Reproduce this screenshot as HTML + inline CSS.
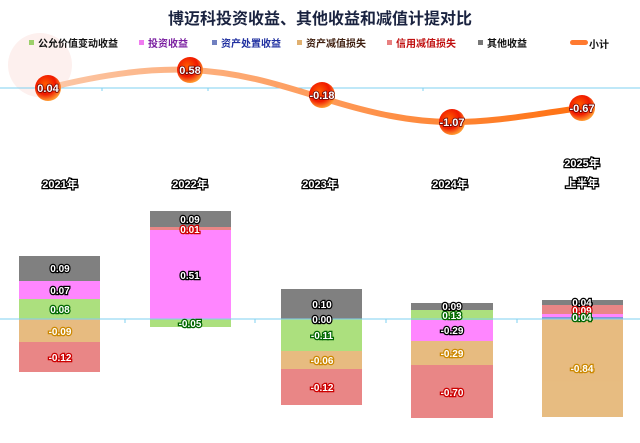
<!DOCTYPE html>
<html><head><meta charset="utf-8"><style>
body{margin:0;width:640px;height:438px;background:#fff;overflow:hidden;font-family:"Liberation Sans","Noto Sans CJK SC",sans-serif}
.t{paint-order:stroke;stroke:#000;stroke-width:2.5px;font-weight:bold}
</style></head><body>
<svg width="640" height="438" xmlns="http://www.w3.org/2000/svg" font-family="Liberation Sans, Noto Sans CJK SC, sans-serif">
<defs>
<radialGradient id="b" cx="40%" cy="35%" r="65%"><stop offset="0" stop-color="#ff5a00"/><stop offset="0.6" stop-color="#f01800"/><stop offset="1" stop-color="#ff9a30"/></radialGradient>
<linearGradient id="l" x1="0" x2="1"><stop offset="0" stop-color="#fcc8a8"/><stop offset="1" stop-color="#ff7010"/></linearGradient>
</defs>
<circle cx="40" cy="65" r="32" fill="#fdf0ee"/>
<text x="320" y="24" text-anchor="middle" font-size="16" font-weight="bold" fill="#1a2340">博迈科投资收益、其他收益和减值计提对比</text>
<g font-size="10" font-weight="bold">
<rect x="29" y="40" width="5" height="5" fill="#9ccf6a"/><text x="38" y="47" fill="#111">公允价值变动收益</text>
<rect x="139" y="40" width="5" height="5" fill="#f07cf0"/><text x="148" y="47" fill="#7a1fa0">投资收益</text>
<rect x="212" y="40" width="5" height="5" fill="#7080c0"/><text x="221" y="47" fill="#2030a0">资产处置收益</text>
<rect x="297" y="40" width="5" height="5" fill="#e0b070"/><text x="306" y="47" fill="#402010">资产减值损失</text>
<rect x="387" y="40" width="5" height="5" fill="#e88080"/><text x="396" y="47" fill="#c01010">信用减值损失</text>
<rect x="478" y="40" width="5" height="5" fill="#777"/><text x="487" y="47" fill="#111">其他收益</text>
<rect x="570" y="40" width="18" height="5" rx="2.5" fill="#ff7a30"/><text x="589" y="48" fill="#111">小计</text>
</g>
<line x1="0" y1="88" x2="640" y2="88" stroke="#7fd0f0" stroke-width="1"/>
<g stroke="#7fd0f0"><line x1="102" y1="88" x2="102" y2="91"/><line x1="208" y1="88" x2="208" y2="91"/><line x1="315" y1="88" x2="315" y2="91"/><line x1="423" y1="88" x2="423" y2="91"/></g>
<path d="M48,88 C100,75 150,68 190,70 C240,72 280,85 322,98 C370,113 410,122 452,122 C500,122 540,113 582,108" fill="none" stroke="url(#l)" stroke-width="6" stroke-linecap="round"/>
<g font-size="11" fill="#fff" text-anchor="middle" class="t" style="stroke-width:1.5px">
<circle cx="48" cy="88" r="13" fill="url(#b)" stroke="none"/><text x="48" y="92" stroke="#600">0.04</text>
<circle cx="190" cy="70" r="13" fill="url(#b)" stroke="none"/><text x="190" y="74" stroke="#600">0.58</text>
<circle cx="322" cy="95" r="13" fill="url(#b)" stroke="none"/><text x="322" y="99" stroke="#600">-0.18</text>
<circle cx="452" cy="122" r="13" fill="url(#b)" stroke="none"/><text x="452" y="126" stroke="#600">-1.07</text>
<circle cx="582" cy="108" r="13" fill="url(#b)" stroke="none"/><text x="582" y="112" stroke="#600">-0.67</text>
</g>
<g font-size="11" fill="#fff" text-anchor="middle" class="t">
<text x="60" y="188">2021年</text><text x="190" y="188">2022年</text><text x="320" y="188">2023年</text><text x="450" y="188">2024年</text>
<text x="582" y="167">2025年</text><text x="582" y="187">上半年</text>
</g>
<g opacity="0.95">
<rect x="19" y="256" width="81" height="25" fill="#7a7a7a"/><rect x="19" y="281" width="81" height="18" fill="#ff80ff"/><rect x="19" y="299" width="81" height="20" fill="#a8df78"/><rect x="19" y="319" width="81" height="23" fill="#e6b87a"/><rect x="19" y="342" width="81" height="30" fill="#e88080"/>
<rect x="150" y="211" width="81" height="16" fill="#7a7a7a"/><rect x="150" y="227" width="81" height="3" fill="#e88080"/><rect x="150" y="230" width="81" height="89" fill="#ff80ff"/><rect x="150" y="319" width="81" height="8" fill="#a8df78"/>
<rect x="281" y="289" width="81" height="30" fill="#7a7a7a"/><rect x="281" y="319" width="81" height="32" fill="#a8df78"/><rect x="281" y="351" width="81" height="18" fill="#e6b87a"/><rect x="281" y="369" width="81" height="36" fill="#e88080"/>
<rect x="411" y="303" width="82" height="7" fill="#7a7a7a"/><rect x="411" y="310" width="82" height="10" fill="#a8df78"/><rect x="411" y="320" width="82" height="21" fill="#ff80ff"/><rect x="411" y="341" width="82" height="24" fill="#e6b87a"/><rect x="411" y="365" width="82" height="53" fill="#e88080"/>
<rect x="542" y="300" width="81" height="5" fill="#7a7a7a"/><rect x="542" y="305" width="81" height="9" fill="#e88080"/><rect x="542" y="314" width="81" height="3" fill="#ff80ff"/><rect x="542" y="317" width="81" height="2" fill="#8090d0"/><rect x="542" y="319" width="81" height="98" fill="#e6b87a"/>
</g>
<line x1="0" y1="319" x2="640" y2="319" stroke="#7fd0f0"/>
<g stroke="#7fd0f0"><line x1="125" y1="319" x2="125" y2="323"/><line x1="255" y1="319" x2="255" y2="323"/><line x1="386" y1="319" x2="386" y2="323"/><line x1="517" y1="319" x2="517" y2="323"/></g>
<g font-size="10" text-anchor="middle" class="t" style="stroke-width:2.5px">
<text x="60" y="272" fill="#fff">0.09</text><text x="60" y="294" fill="#fff">0.07</text><text x="60" y="313" fill="#fff" stroke="#060">0.08</text><text x="60" y="335" fill="#fff" stroke="#c80">-0.09</text><text x="60" y="361" fill="#fff" stroke="#c00">-0.12</text>
<text x="190" y="223" fill="#fff">0.09</text><text x="190" y="233" fill="#fff" stroke="#c00">0.01</text><text x="190" y="279" fill="#fff">0.51</text><text x="190" y="327" fill="#fff" stroke="#060">-0.05</text>
<text x="322" y="308" fill="#fff">0.10</text><text x="322" y="323" fill="#fff">0.00</text><text x="322" y="339" fill="#fff" stroke="#060">-0.11</text><text x="322" y="364" fill="#fff" stroke="#c80">-0.06</text><text x="322" y="391" fill="#fff" stroke="#c00">-0.12</text>
<text x="452" y="310" fill="#fff">0.09</text><text x="452" y="319" fill="#fff" stroke="#060">0.13</text><text x="452" y="334" fill="#fff">-0.29</text><text x="452" y="357" fill="#fff" stroke="#c80">-0.29</text><text x="452" y="396" fill="#fff" stroke="#c00">-0.70</text>
<text x="582" y="306" fill="#fff">0.04</text><text x="582" y="314" fill="#fff" stroke="#c00">0.09</text><text x="582" y="321" fill="#fff" stroke="#060">0.04</text><text x="582" y="372" fill="#fff" stroke="#c80">-0.84</text>
</g>
</svg>
</body></html>
